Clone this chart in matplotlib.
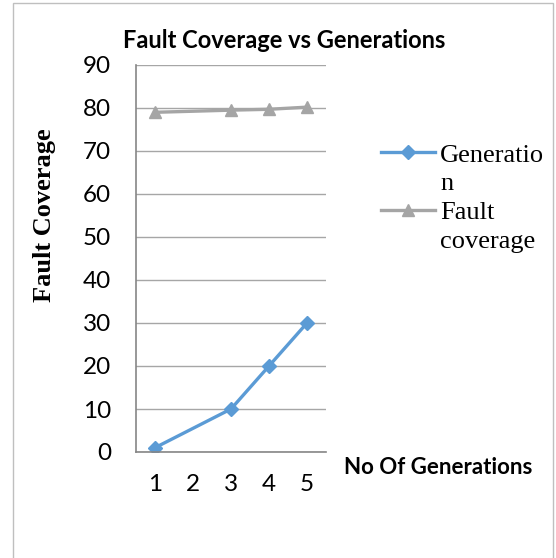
import numpy as np
import matplotlib.pyplot as plt
from matplotlib.patches import Rectangle
from matplotlib.lines import Line2D

# category labels on the x axis and the values
categories = ['1', '2', '3', '4', '5']
generation = [1, np.nan, 10, 20, 30]
fault_coverage = [79, np.nan, 79.5, 79.7, 80.2]

blue = '#5B9BD5'
grey = '#A5A5A5'

W, H = 556, 558
fig = plt.figure(figsize=(W/100, H/100), dpi=100)
# outer chart border (bottom edge runs off the picture)
fig.patches.append(Rectangle((13/W, -0.02), 540/W, 1.02 - 3/H,
                             transform=fig.transFigure, fill=False,
                             edgecolor='#BFBFBF', linewidth=1.0))

ax = fig.add_axes([136/W, 1 - 452/H, 190/W, 387/H])
x = np.arange(1, len(categories) + 1)

def connected(xs, ys):
    # Excel joins the points across the empty category
    ys = np.asarray(ys, dtype=float)
    m = ~np.isnan(ys)
    return xs[m], ys[m]

gx, gy = connected(x, generation)
fx, fy = connected(x, fault_coverage)
l1, = ax.plot(gx, gy, color=blue, lw=2.4, marker='D', ms=7.5)
l2, = ax.plot(fx, fy, color=grey, lw=2.4, marker='^', ms=9)

ax.set_xlim(0.5, 5.5)
ax.set_ylim(0, 90)
ax.set_yticks(range(0, 91, 10))
ax.set_xticks(x)
ax.set_xticklabels(categories)
ax.grid(axis='y', color='#A6A6A6', lw=1)
ax.set_axisbelow(True)
for s in ['top', 'right']:
    ax.spines[s].set_visible(False)
for s in ['left', 'bottom']:
    ax.spines[s].set_color('#868686')
    ax.spines[s].set_linewidth(1.2)
ax.tick_params(length=0, labelsize=17.5)
for t in ax.get_xticklabels() + ax.get_yticklabels():
    t.set_family('Lato')
ax.tick_params(axis='x', pad=16)
ax.tick_params(axis='y', pad=18)

fig.text(284/W, 1 - 40/H, 'Fault Coverage vs Generations', ha='center', va='center',
         family='Lato', fontweight='bold', fontsize=17)
fig.text(45/W, 1 - 215/H, 'Fault Coverage', rotation=90, ha='center', va='center',
         family='Liberation Serif', fontweight='bold', fontsize=19)
fig.text(438/W, 1 - 468/H, 'No Of Generations', ha='center', va='center',
         family='Lato', fontweight='bold', fontsize=16)

blank = Line2D([], [], linestyle='none')
ax.legend([l1, blank, l2, blank], ['Generatio', 'n', 'Fault', 'coverage'],
          loc='upper left', bbox_to_anchor=(368/W, 1 - 130/H),
          bbox_transform=fig.transFigure, frameon=False,
          prop={'family': 'Liberation Serif', 'size': 19},
          handlelength=2.05, handletextpad=0.18, labelspacing=0.2, borderpad=0)

fig.savefig('out.png')
